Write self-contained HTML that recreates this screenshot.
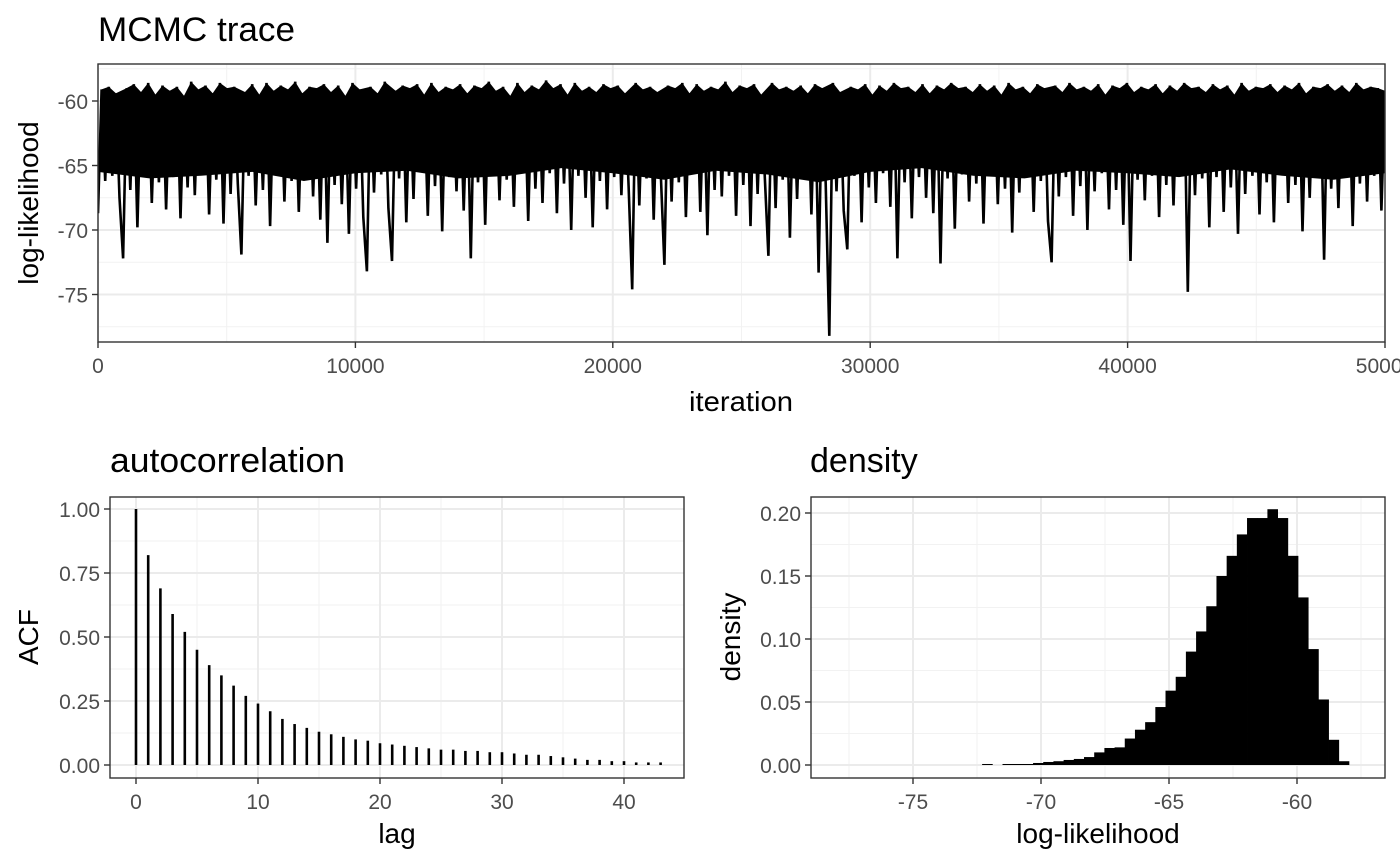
<!DOCTYPE html>
<html><head><meta charset="utf-8"><style>
body{margin:0;background:#fff}
svg{display:block;font-family:"Liberation Sans",Arial,sans-serif}
.tk{fill:#4d4d4d;font-size:21px}
.ax{fill:#000;font-size:28px}
.ti{fill:#000;font-size:34px}
</style></head><body>
<svg id="s" width="1400" height="865" viewBox="0 0 1400 865"></svg>
<script>
const traceVals=[-68.7,-59.1,-66.2,-58.9,-65.8,-59.4,-67.5,-72.2,-59.0,-66.9,-58.7,-69.8,-59.3,-65.4,-58.6,-67.9,-59.5,-66.3,-58.8,-68.4,
-59.2,-65.9,-58.9,-69.1,-59.6,-66.7,-58.5,-67.3,-59.1,-65.5,-58.8,-68.8,-59.4,-66.1,-58.6,-69.5,-59.0,-67.2,-58.9,-66.4,
-71.9,-59.3,-65.8,-58.7,-68.1,-59.5,-66.9,-58.6,-69.7,-59.2,-65.6,-58.8,-67.8,-59.1,-66.2,-58.5,-68.6,-59.4,-65.9,-58.9,
-67.4,-59.0,-69.2,-58.7,-71.0,-59.3,-66.5,-58.8,-68.0,-59.6,-70.3,-58.6,-66.8,-59.1,-69.0,-73.2,-58.9,-67.1,-59.4,-65.7,
-58.5,-68.3,-72.4,-59.2,-66.0,-58.8,-69.4,-59.0,-67.6,-58.7,-65.3,-59.5,-68.9,-58.6,-66.6,-59.3,-70.1,-58.9,-65.9,-59.1,
-67.0,-58.7,-68.5,-59.4,-72.2,-58.8,-66.3,-59.0,-69.6,-58.5,-65.7,-59.2,-67.7,-58.9,-66.1,-59.6,-68.2,-58.6,-65.5,-59.3,
-69.3,-58.8,-66.8,-59.1,-67.9,-58.4,-65.6,-59.0,-68.7,-58.7,-66.4,-59.5,-70.0,-58.6,-65.8,-59.2,-67.5,-58.9,-69.8,-59.3,
-66.2,-58.7,-68.4,-59.0,-65.9,-58.8,-67.3,-59.4,-66.6,-74.6,-58.6,-68.1,-59.1,-66.0,-58.9,-69.2,-59.3,-65.7,-72.7,-58.8,
-67.8,-59.0,-66.3,-58.6,-69.0,-59.4,-65.6,-58.7,-68.6,-59.2,-70.4,-58.9,-66.9,-59.1,-67.4,-58.5,-65.8,-59.3,-68.9,-58.8,
-66.5,-59.0,-69.7,-58.7,-67.2,-59.5,-65.9,-72.0,-58.6,-68.3,-59.1,-66.1,-58.9,-70.6,-59.2,-67.6,-58.8,-65.7,-59.4,-68.8,
-58.7,-73.3,-59.0,-66.4,-78.2,-58.6,-67.0,-59.3,-68.5,-71.5,-58.9,-65.8,-59.1,-69.4,-58.7,-66.7,-59.5,-67.9,-58.8,-65.6,
-59.2,-68.2,-58.6,-72.2,-59.0,-66.3,-58.9,-69.1,-59.3,-65.9,-58.7,-67.5,-59.4,-68.7,-58.8,-72.6,-59.1,-66.0,-58.6,-69.9,
-59.0,-65.7,-58.9,-67.8,-59.3,-66.4,-58.7,-69.5,-59.2,-65.5,-58.8,-68.0,-59.5,-66.8,-58.6,-70.2,-59.1,-67.1,-58.9,-65.8,
-59.4,-68.6,-58.7,-66.2,-59.0,-69.3,-72.5,-58.8,-67.4,-59.3,-65.9,-58.6,-68.9,-59.1,-66.6,-58.9,-70.0,-59.2,-67.0,-58.7,
-65.6,-59.5,-68.4,-58.8,-66.9,-59.0,-69.6,-58.6,-72.4,-59.3,-66.1,-58.9,-67.7,-59.1,-65.8,-58.7,-69.0,-59.4,-66.5,-58.8,
-68.1,-59.2,-65.7,-58.6,-74.8,-59.0,-67.3,-58.9,-66.0,-59.3,-69.8,-58.7,-65.9,-59.1,-68.6,-58.8,-66.7,-59.5,-70.3,-58.6,
-67.2,-59.2,-65.8,-58.9,-68.8,-59.0,-66.3,-58.7,-69.4,-59.3,-65.6,-58.8,-67.9,-59.1,-66.5,-58.6,-70.1,-59.4,-67.5,-58.9,
-65.9,-59.0,-72.3,-58.7,-66.8,-59.2,-68.3,-58.8,-65.7,-59.3,-69.7,-58.6,-66.4,-59.1,-67.8,-58.9,-65.8,-59.0,-68.5,-59.2];
const bandLow=[-65.5,-66,-65.8,-65.5,-66.2,-65.6,-65.4,-66,-65.8,-65.2,-65.6,-66.1,-65.4,-65.7,-66.3,-65.5,-65.2,-65.8,-66,-65.4,-65.6,-65.9,-65.3,-65.8,-66.1,-65.6];
const traceMaxIter=50000;
const traceXTicks=[0,10000,20000,30000,40000,50000];
const traceYTicks=[-75,-70,-65,-60];
const acfVals=[1,0.82,0.69,0.59,0.52,0.45,0.39,0.35,0.31,0.27,0.24,0.21,0.18,0.16,0.145,0.13,0.12,0.11,0.10,0.095,0.085,0.08,0.075,0.07,0.065,0.06,0.06,0.055,0.055,0.05,0.05,0.045,0.04,0.04,0.035,0.03,0.025,0.02,0.02,0.015,0.015,0.01,0.01,0.01];
const acfXTicks=[0,10,20,30,40];
const acfYTicks=[0,0.25,0.5,0.75,1];
const acfYLabels=["0.00","0.25","0.50","0.75","1.00"];
const histStart=-72.3, histWidth=0.398;
const histVals=[0.0008,0,0.0008,0.0008,0.0008,0.0016,0.0024,0.003,0.004,0.0048,0.0063,0.010,0.0135,0.014,0.021,0.028,0.034,0.046,0.059,0.070,0.090,0.106,0.126,0.150,0.166,0.183,0.196,0.196,0.203,0.196,0.166,0.133,0.092,0.052,0.020,0.003];
const densXTicks=[-75,-70,-65,-60];
const densYTicks=[0,0.05,0.1,0.15,0.2];
const densYLabels=["0.00","0.05","0.10","0.15","0.20"];

const NS="http://www.w3.org/2000/svg";
const svg=document.getElementById('s');
function el(t,a,p){const e=document.createElementNS(NS,t);for(const k in a)e.setAttribute(k,a[k]);(p||svg).appendChild(e);return e;}
function txt(s,a,cls,p){const e=el('text',a,p);e.setAttribute('class',cls);e.textContent=s;return e;}
function lin(d0,d1,r0,r1){return v=>r0+(v-d0)/(d1-d0)*(r1-r0);}

function panel(name,x0,x1,y0,y1,sx,sy,xt,xl,yt,yl,xminor,yminor){
  const g=el('g',{});
  
  
  el('rect',{x:x0,y:y0,width:x1-x0,height:y1-y0,fill:'#fff'},g);
  xminor.forEach(v=>{const x=sx(v);if(x>x0&&x<x1)el('line',{x1:x,x2:x,y1:y0,y2:y1,stroke:'#f2f2f2','stroke-width':1},g);});
  yminor.forEach(v=>{const y=sy(v);if(y>y0&&y<y1)el('line',{x1:x0,x2:x1,y1:y,y2:y,stroke:'#f2f2f2','stroke-width':1},g);});
  xt.forEach(v=>{const x=sx(v);el('line',{x1:x,x2:x,y1:y0,y2:y1,stroke:'#ebebeb','stroke-width':2},g);});
  yt.forEach(v=>{const y=sy(v);el('line',{x1:x0,x2:x1,y1:y,y2:y,stroke:'#ebebeb','stroke-width':2},g);});
  xt.forEach((v,i)=>{const x=sx(v);el('line',{x1:x,x2:x,y1:y1,y2:y1+6,stroke:'#333','stroke-width':1.4});
    const t=txt(xl[i],{x:x,y:y1+31,'text-anchor':'middle'},'tk');
    
    });
  yt.forEach((v,i)=>{const y=sy(v);el('line',{x1:x0-6,x2:x0,y1:y,y2:y,stroke:'#333','stroke-width':1.4});
    const t=txt(yl[i],{x:x0-10,y:y+8,'text-anchor':'end'},'tk');
    
    });
  return g;
}
function border(x0,x1,y0,y1){el('rect',{x:x0,y:y0,width:x1-x0,height:y1-y0,fill:'none',stroke:'#333','stroke-width':1.4});}
function label(s,a,cls,name,len){const t=txt(s,a,cls);if(len){t.setAttribute('textLength',len);t.setAttribute('lengthAdjust','spacingAndGlyphs');}
  return t;}

// Trace
{
 const x0=98,x1=1385,y0=64,y1=342;
 const sx=lin(0,traceMaxIter,x0,x1), sy=lin(-60,-75,101,294.5);
 panel('trace',x0,x1,y0,y1,sx,sy,traceXTicks,traceXTicks.map(String),traceYTicks,traceYTicks.map(String),[5000,15000,25000,35000,45000],[-77.5,-72.5,-67.5,-62.5,-57.5]);
 const n=traceVals.length;
 const cp=el('clipPath',{id:'cp'});el('rect',{x:x0,y:y0,width:x1-x0,height:y1-y0},cp);
 // dense band: upper edge through the high samples, lower edge from bandLow
 const top=[];traceVals.forEach((v,i)=>{if(v>-62)top.push(sx(i*traceMaxIter/(n-1)).toFixed(1)+','+sy(v).toFixed(1));});
 const bot=bandLow.map((v,i)=>sx(i*traceMaxIter/(bandLow.length-1)).toFixed(1)+','+sy(v).toFixed(1)).reverse();
 const band=el('polygon',{points:top.concat(bot).join(' '),fill:'#000','clip-path':'url(#cp)'});
 
 
 const pts=traceVals.map((v,i)=>sx(i*traceMaxIter/(n-1)).toFixed(1)+','+sy(v).toFixed(1)).join(' ');
 const pl=el('polyline',{points:pts,fill:'none',stroke:'#000','stroke-width':2.6,'stroke-linejoin':'miter','clip-path':'url(#cp)'});
 
 
 border(x0,x1,y0,y1);
 label('MCMC trace',{x:98,y:41},'ti','trace-title',197);
 label('iteration',{x:741,y:411,'text-anchor':'middle'},'ax','trace-x-axis-title',104);
 label('log-likelihood',{x:0,y:0,'text-anchor':'middle',transform:'translate(38,203) rotate(-90)'},'ax','trace-y-axis-title');
}
// ACF
{
 const x0=110,x1=684,y0=497,y1=778;
 const sx=lin(0,10,136,258), sy=lin(0,1,765,509);
 panel('acf',x0,x1,y0,y1,sx,sy,acfXTicks,acfXTicks.map(String),acfYTicks,acfYLabels,[5,15,25,35],[0.125,0.375,0.625,0.875]);
 acfVals.forEach((v,i)=>{const l=el('line',{x1:sx(i),x2:sx(i),y1:sy(0),y2:sy(v),stroke:'#000','stroke-width':2.6});
  
  });
 border(x0,x1,y0,y1);
 label('autocorrelation',{x:110,y:472},'ti','acf-title',235);
 label('lag',{x:397,y:843,'text-anchor':'middle'},'ax','acf-x-axis-title');
 label('ACF',{x:0,y:0,'text-anchor':'middle',transform:'translate(38,637) rotate(-90)'},'ax','acf-y-axis-title');
}
// Density
{
 const x0=811,x1=1385,y0=497,y1=778;
 const sx=lin(-75,-60,913,1297), sy=lin(0,0.2,765,513);
 panel('density',x0,x1,y0,y1,sx,sy,densXTicks,densXTicks.map(String),densYTicks,densYLabels,[-77.5,-72.5,-67.5,-62.5,-57.5],[0.025,0.075,0.125,0.175]);
 histVals.forEach((v,i)=>{if(v<=0)return;const a=sx(histStart+i*histWidth),b=sx(histStart+(i+1)*histWidth);
  const r=el('rect',{x:a,y:sy(v),width:b-a+0.4,height:sy(0)-sy(v),fill:'#000'});
  
  });
 border(x0,x1,y0,y1);
 label('density',{x:810,y:472},'ti','density-title');
 label('log-likelihood',{x:1098,y:843,'text-anchor':'middle'},'ax','density-x-axis-title');
 label('density',{x:0,y:0,'text-anchor':'middle',transform:'translate(740,637) rotate(-90)'},'ax','density-y-axis-title');
}
</script>
</body></html>
